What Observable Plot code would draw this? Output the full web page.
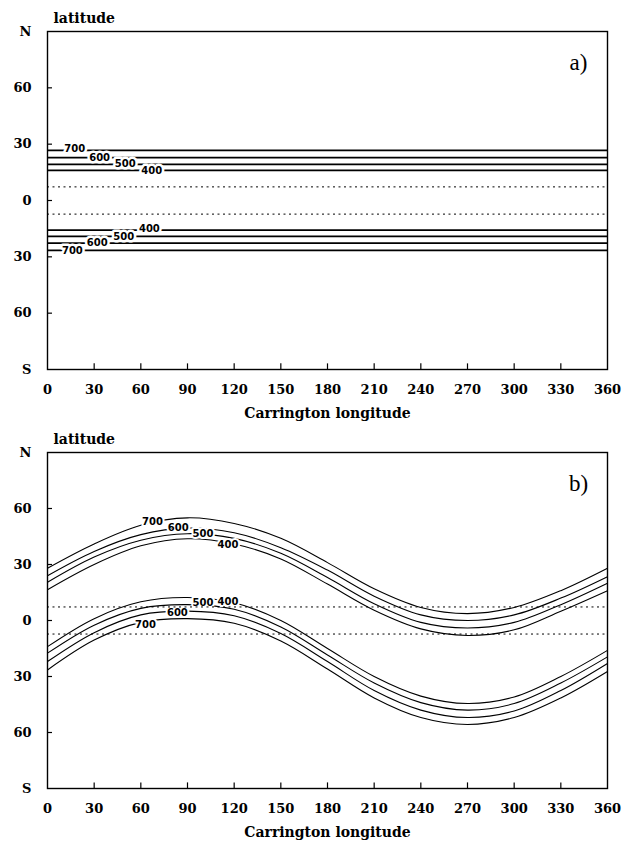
<!DOCTYPE html>
<html><head><meta charset="utf-8">
<script src="https://cdn.jsdelivr.net/npm/d3@7"></script>
<script src="https://cdn.jsdelivr.net/npm/@observablehq/plot@0.6"></script>
<style>
body{margin:0;background:#fff;}
#chart svg{display:block;}
</style>
</head><body><div id="chart"></div>
<script>
// ---- tick values / labels ----
const lonTicks = [0, 30, 60, 90, 120, 150, 180, 210, 240, 270, 300, 330, 360];
const lonInnerTicks = [30, 60, 90, 120, 150, 180, 210, 240, 270, 300, 330];
const latTicks = [-90, -60, -30, 0, 30, 60, 90];
const latTickLabels = ["S", "60", "30", "0", "30", "60", "N"];
const latInnerTicks = [-60, -30, 0, 30, 60];
const levels = ["400", "500", "600", "700"];
const dottedLats = [7.25, -7.25];

// ---- panel a: flat contours (latitude of each level) ----
const aNorthLat = [16.0, 19.2, 22.8, 26.7];
const aSouthLat = [-15.8, -19.1, -22.7, -26.6];
// label positions panel a (lon, lat)
const aNorthLabelLon = [67, 50, 33.5, 17.5];
const aNorthLabelLat = [16.0, 19.6, 23.0, 27.6];
const aSouthLabelLon = [65.5, 49, 32, 16];
const aSouthLabelLat = [-15.2, -19.1, -22.6, -26.6];

// ---- panel b: warped contours, read every 30 deg of longitude ----
const bLon = [0, 30, 60, 90, 120, 150, 180, 210, 240, 270, 300, 330, 360];
const bNorth400 = [16.5, 30, 40, 43.8, 41, 33, 19.5, 5.5, -4.5, -8, -5, 5, 16];
const bNorth500 = [20.5, 34, 43, 46.5, 44, 36, 23, 9, -1, -4, -1, 8.5, 20];
const bNorth600 = [24, 37, 46, 49.5, 47, 39, 27, 13, 3, 0, 3, 12, 23.5];
const bNorth700 = [28, 41, 51, 55, 52, 44, 31, 17, 7, 3.7, 7, 16, 28];
const bSouth400 = [-14, 1, 10, 12.3, 9.5, 0, -15, -30, -40.5, -44.5, -41, -30, -16];
const bSouth500 = [-17.5, -2.5, 6.5, 8.5, 6, -3.5, -18.5, -33.5, -44, -48, -44.5, -33.5, -19.5];
const bSouth600 = [-22, -6.5, 3, 5, 2.5, -7, -22, -37.5, -48, -52, -48.5, -37.5, -23];
const bSouth700 = [-26.5, -10.5, -1, 1, -1.5, -11, -26, -41.5, -52, -55.7, -52, -41.5, -27.3];
// label positions panel b
const bNorthLabelLon = [116, 100, 84, 67.5];
const bNorthLabelLat = [40.5, 46.6, 49.8, 52.8];
const bSouthLabelLon = [116, 100, 83.5, 63];
const bSouthLabelLat = [9.8, 9.6, 4.3, -2.1];

const W = 626;
const serif = "DejaVu Serif";

function labelRows(lons, lats) {
  return levels.map((t, i) => ({lon: lons[i], lat: lats[i], text: t}));
}

function commonMarks(tag) {
  return [
    Plot.ruleY(dottedLats, {y: d => d, stroke: "black", strokeWidth: 1, strokeDasharray: "2,3.5"}),
    Plot.ruleY(latInnerTicks, {y: d => d, x1: 0, x2: 3.2, stroke: "black", strokeWidth: 1.2}),
    Plot.ruleX(lonInnerTicks, {x: d => d, y1: -90, y2: -87, stroke: "black", strokeWidth: 1.2}),
    Plot.axisX(lonTicks, {tickSize: 0, tickPadding: 15, label: null, tickFormat: d => String(d)}),
    Plot.axisY(latTicks, {tickSize: 0, tickPadding: 16, label: null,
      tickFormat: d => latTickLabels[latTicks.indexOf(d)]}),
    Plot.text(["latitude"], {frameAnchor: "top-left", textAnchor: "start", lineAnchor: "middle", dx: 6, dy: -13,
      text: d => d, fontFamily: serif, fontWeight: "bold", fontSize: 14}),
    Plot.text(["Carrington longitude"], {frameAnchor: "bottom", textAnchor: "middle", lineAnchor: "middle", dy: 44,
      text: d => d, fontFamily: serif, fontWeight: "bold", fontSize: 14}),
    Plot.text([tag], {frameAnchor: "top-right", textAnchor: "middle", lineAnchor: "middle", dx: -29, dy: 31,
      text: d => d, fontFamily: "Liberation Serif", fontWeight: "normal", fontSize: 23}),
    Plot.frame({stroke: "black", strokeWidth: 1.4})
  ];
}

const plotStyle = {fontFamily: serif, fontSize: "13px", fontWeight: "bold", background: "white", color: "black"};

// panel a
const aLines = aNorthLat.concat(aSouthLat);
const aLabels = labelRows(aNorthLabelLon, aNorthLabelLat).concat(labelRows(aSouthLabelLon, aSouthLabelLat));
const plotA = Plot.plot({
  width: W, height: 425,
  marginLeft: 47, marginRight: 19, marginTop: 31, marginBottom: 56,
  x: {domain: [0, 360]}, y: {domain: [-90, 90]},
  style: plotStyle,
  marks: [
    Plot.ruleY(aLines, {y: d => d, stroke: "black", strokeWidth: 1.7}),
    Plot.text(aLabels, {x: "lon", y: "lat", text: "text", fontFamily: "DejaVu Sans", fontWeight: "bold",
      fontSize: 10, fill: "black", stroke: "white", strokeWidth: 5, paintOrder: "stroke"}),
    ...commonMarks("a)")
  ]
});

// panel b
const bSeries = [
  ["N400", bNorth400], ["N500", bNorth500], ["N600", bNorth600], ["N700", bNorth700],
  ["S400", bSouth400], ["S500", bSouth500], ["S600", bSouth600], ["S700", bSouth700]
];
const bData = bSeries.flatMap(([id, vals]) => vals.map((v, i) => ({id, lon: bLon[i], lat: v})));
const bLabels = labelRows(bNorthLabelLon, bNorthLabelLat).concat(labelRows(bSouthLabelLon, bSouthLabelLat));
const plotB = Plot.plot({
  width: W, height: 418,
  marginLeft: 47, marginRight: 19, marginTop: 27, marginBottom: 55,
  x: {domain: [0, 360]}, y: {domain: [-90, 90]},
  style: plotStyle,
  marks: [
    Plot.line(bData, {x: "lon", y: "lat", z: "id", curve: "catmull-rom", stroke: "black", strokeWidth: 1.1}),
    Plot.text(bLabels, {x: "lon", y: "lat", text: "text", fontFamily: "DejaVu Sans", fontWeight: "bold",
      fontSize: 10, fill: "black", stroke: "white", strokeWidth: 4, paintOrder: "stroke"}),
    ...commonMarks("b)")
  ]
});

document.getElementById("chart").append(plotA, plotB);
</script>
</body></html>
